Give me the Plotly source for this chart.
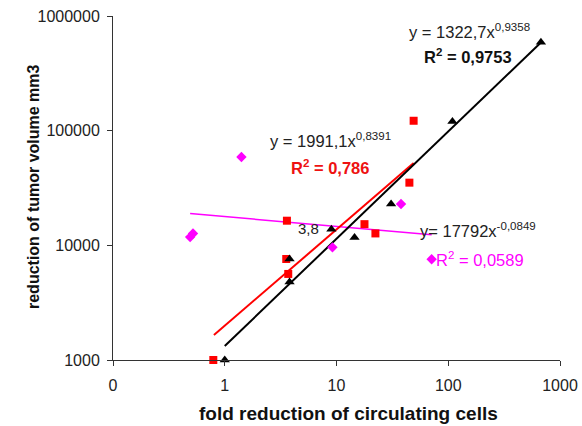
import numpy as np
import plotly.graph_objects as go

# --- measured series -------------------------------------------------------
tri_x = [1.0, 3.8, 3.8, 9.0, 14.5, 30.8, 109, 675]
tri_y = [1000, 7600, 4800, 13800, 11700, 22900, 120000, 590000]

sq_x = [0.79, 3.6, 3.55, 3.7, 17.8, 22.3, 44.9, 49]
sq_y = [1000, 16400, 7600, 5630, 15300, 12700, 35200, 122000]

dia_x = [0.49, 0.52, 1.41, 9.2, 37.8, 71]
dia_y = [11800, 12700, 59000, 9600, 22900, 7560]

# power-law fits y = a * x^b
fit_black = dict(a=1322.7, b=0.9358, x0=1.0, x1=675)
fit_red = dict(a=1991.1, b=0.8391, x0=0.8, x1=49)
fit_mag = dict(a=17792, b=-0.0849, x0=0.49, x1=71)

x_tickvals = [0.1, 1, 10, 100, 1000]
x_ticktext = ["0", "1", "10", "100", "1000"]
y_tickvals = [1000, 10000, 100000, 1000000]
y_ticktext = ["1000", "10000", "100000", "1000000"]

FONT = "Liberation Sans, Arial, sans-serif"


def fit_curve(f, n=40):
    xs = np.logspace(np.log10(f["x0"]), np.log10(f["x1"]), n)
    return xs, f["a"] * xs ** f["b"]


fig = go.Figure()

for f, col, w in [(fit_mag, "#FF00FF", 1.5), (fit_red, "#FF0000", 2), (fit_black, "#000000", 2)]:
    xs, ys = fit_curve(f)
    fig.add_trace(go.Scatter(x=xs, y=ys, mode="lines",
                             line=dict(color=col, width=w), showlegend=False,
                             hoverinfo="skip"))

fig.add_trace(go.Scatter(x=dia_x, y=dia_y, mode="markers", cliponaxis=False,
                         marker=dict(symbol="diamond", size=8, color="#FF00FF"),
                         showlegend=False))
fig.add_trace(go.Scatter(x=sq_x, y=sq_y, mode="markers", cliponaxis=False,
                         marker=dict(symbol="square", size=8, color="#FF0000"),
                         showlegend=False))
fig.add_trace(go.Scatter(x=tri_x, y=tri_y, mode="markers", cliponaxis=False,
                         marker=dict(symbol="triangle-up", size=9, color="#000000"),
                         showlegend=False))

# plot area in pixels: x 113..560, y 16..360
L, R, T, B = 113, 560, 16, 360


def px(xp, yp):
    return (xp - L) / (R - L), (B - yp) / (B - T)


def note(xp, yp, text, color="#222222", size=16.5, angle=0):
    xx, yy = px(xp, yp)
    fig.add_annotation(x=xx, y=yy, xref="paper", yref="paper", text=text,
                       showarrow=False, xanchor="center", yanchor="middle",
                       textangle=angle,
                       font=dict(family=FONT, size=size, color=color))


# fit equations and R² values
note(469, 31, "y = 1322,7x<sup>0,9358</sup>")
note(468, 56, "<b>R<sup>2</sup> = 0,9753</b>", color="#111111")
note(330, 140, "y = 1991,1x<sup>0,8391</sup>")
note(330, 167, "<b>R<sup>2</sup> = 0,786</b>", color="#EE1111")
note(478, 230, "y= 17792x<sup>-0,0849</sup>")
note(480, 259, "R<sup>2</sup> = 0,0589", color="#FF00FF")
note(308, 228, "3,8", size=15)

# axis titles
note(348, 413, "<b>fold reduction of circulating cells</b>", color="#111111", size=19)
note(33, 187, "<b>reduction of tumor volume mm3</b>", color="#111111", size=16, angle=-90)

axis_common = dict(type="log", showgrid=False, zeroline=False, showline=True,
                   linecolor="#333333", linewidth=1, ticks="outside", ticklen=5,
                   tickcolor="#333333", automargin=False,
                   tickfont=dict(family=FONT, size=16, color="#222222"))

# ranges padded by a hair so points lying exactly on the axis lines still render
fig.update_layout(
    width=582, height=426,
    margin=dict(l=L, r=582 - R, t=T, b=426 - B),
    paper_bgcolor="white", plot_bgcolor="white",
    font=dict(family=FONT, size=16, color="#222222"),
    xaxis=dict(range=[-1.00001, 3.00001], tickvals=x_tickvals, ticktext=x_ticktext,
               ticklabelstandoff=6, **axis_common),
    yaxis=dict(range=[2.99999, 6.00001], tickvals=y_tickvals, ticktext=y_ticktext,
               ticklabelstandoff=4, **axis_common),
)

fig.write_html("out.html")
